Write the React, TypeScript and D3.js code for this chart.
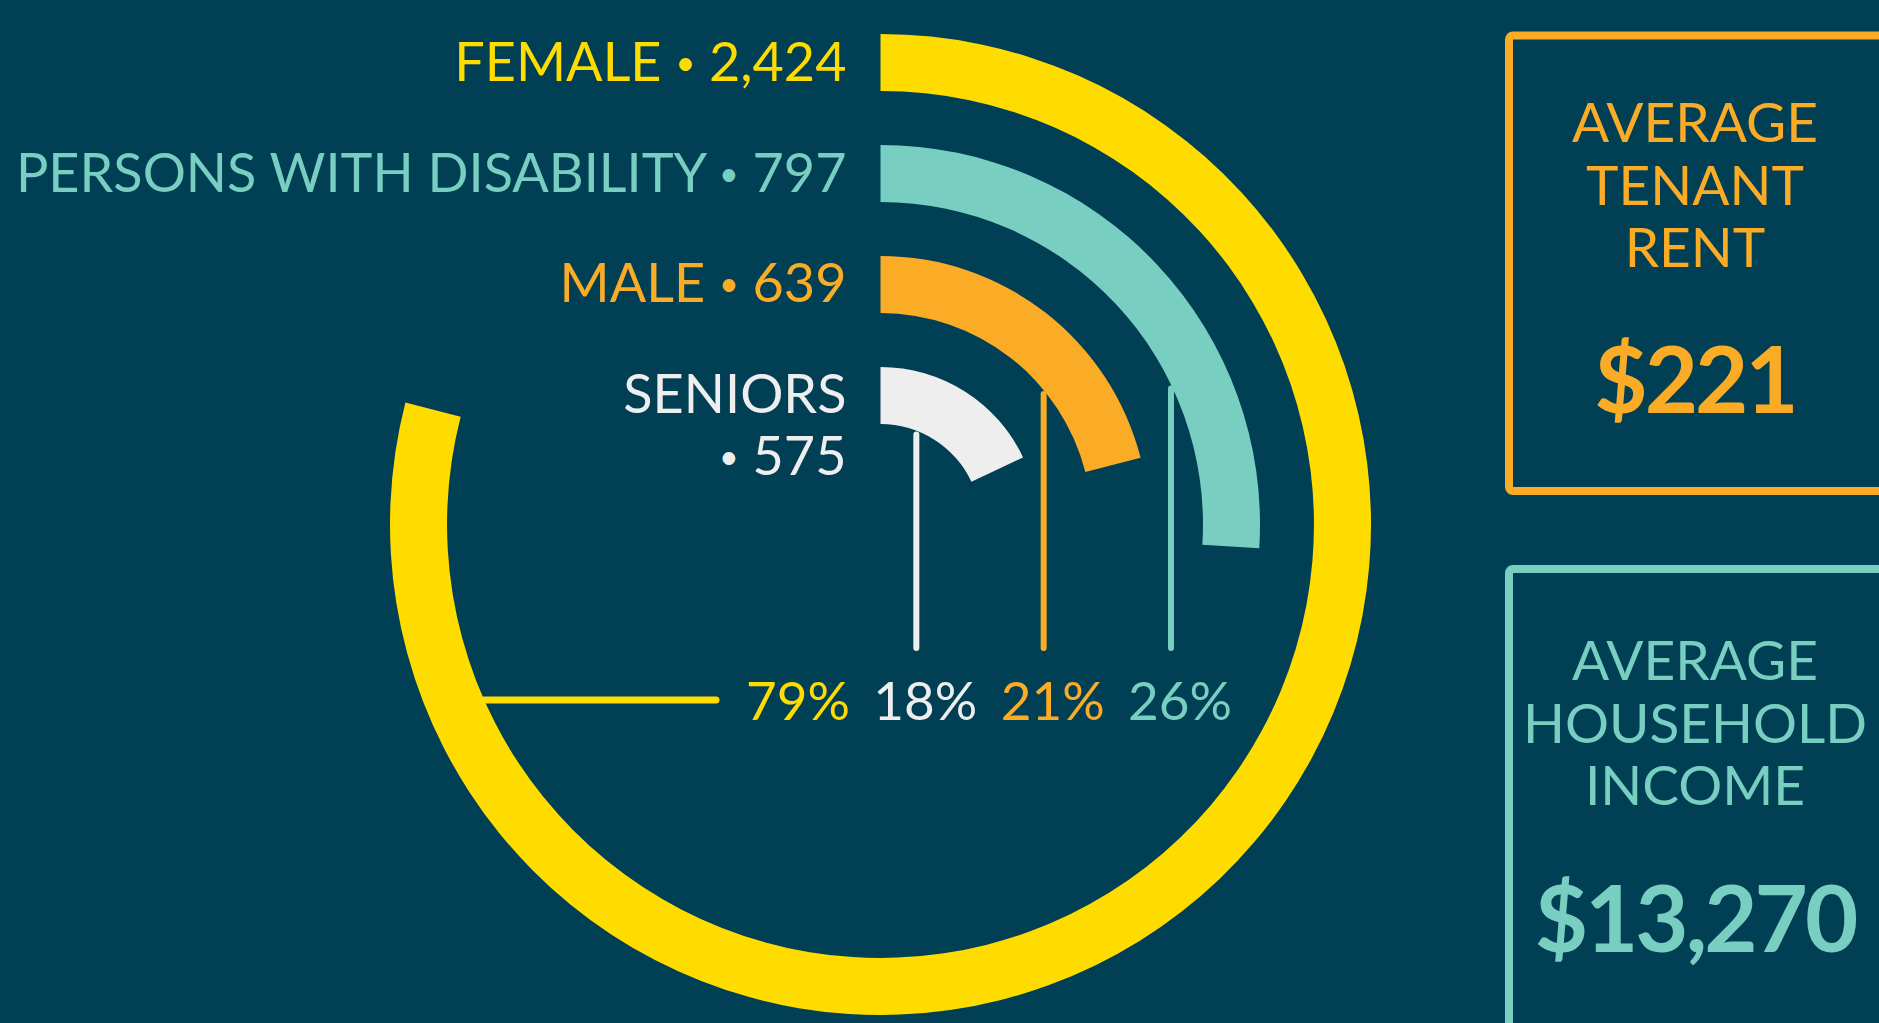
import React from "react";
import * as d3 from "d3";

const categories = ["FEMALE", "PERSONS WITH DISABILITY", "MALE", "SENIORS"];
const counts = [2424, 797, 639, 575];
const shares = [0.79, 0.26, 0.21, 0.18];
const colors = ["#FEDC00", "#78CEC1", "#FBAC26", "#EEEEEE"];
const percentOrder = ["FEMALE", "SENIORS", "MALE", "PERSONS WITH DISABILITY"];

const statTitles = [
  ["AVERAGE", "TENANT", "RENT"],
  ["AVERAGE", "HOUSEHOLD", "INCOME"],
];
const statValues = [221, 13270];
const statColors = ["#FBAC26", "#78CEC1"];

const W = 1879;
const H = 1023;
const BG = "#013F54";
const FONT = "Lato, 'Open Sans', sans-serif";

function Bullet() {
  return (
    <>
      {" "}
      <tspan fontSize={34} dy={-6}>
        •
      </tspan>
      <tspan dy={6}> </tspan>
    </>
  );
}

export default function App() {
  const cx = 880.5;
  const cy = 524.5;

  const ringScale = d3
    .scaleBand<string>()
    .domain([...categories].reverse())
    .range([100.5, 490.5])
    .paddingInner(0.486)
    .paddingOuter(0);
  const bw = ringScale.bandwidth();

  const angle = d3.scaleLinear().domain([0, 1]).range([0, 2 * Math.PI]);

  const arcGen = d3.arc<any>();
  const fmtCount = d3.format(",");
  const fmtPct = d3.format(".0%");
  const fmtMoney = d3.format("$,");

  const pctX = d3.scalePoint<string>().domain(percentOrder).range([798, 1180]);
  const pctBaseline = 720;
  const lineY = 700;
  const stemBottom = 648;

  const colorOf = (c: string) => colors[categories.indexOf(c)];
  const labelX = cx - 34;

  return (
    <svg
      width={W}
      height={H}
      style={{ position: "absolute", left: 0, top: 0, display: "block" }}
      fontFamily={FONT}
    >
      <rect x={0} y={0} width={W} height={H} fill={BG} />

      {/* rings */}
      <g transform={`translate(${cx},${cy})`}>
        {categories.map((c, i) => {
          const inner = ringScale(c)!;
          const d = arcGen({
            innerRadius: inner,
            outerRadius: inner + bw,
            startAngle: 0,
            endAngle: angle(shares[i]),
          });
          return <path key={c} d={d || ""} fill={colors[i]} />;
        })}
      </g>

      {/* ring labels */}
      {categories.map((c, i) => {
        const inner = ringScale(c)!;
        const mid = cy - (inner + bw / 2);
        const innermost = i === categories.length - 1;
        const n = fmtCount(counts[i]);
        if (innermost) {
          return (
            <g key={c} fill={colors[i]} fontSize={54} textAnchor="end">
              <text x={labelX} y={mid + 18}>
                {c}
              </text>
              <text x={labelX} y={mid + 80}>
                <tspan fontSize={34} dy={-6}>
                  •
                </tspan>
                <tspan dy={6}> {n}</tspan>
              </text>
            </g>
          );
        }
        return (
          <text
            key={c}
            x={labelX}
            y={mid + 18}
            textAnchor="end"
            fill={colors[i]}
            fontSize={54}
          >
            {c}
            <Bullet />
            {n}
          </text>
        );
      })}

      {/* leaders */}
      {percentOrder.map((c, k) => {
        const i = categories.indexOf(c);
        const inner = ringScale(c)!;
        const px = pctX(c)!;
        if (k === 0) {
          const dy = lineY - cy;
          const xs = cx - Math.sqrt(inner * inner - dy * dy) - 4;
          return (
            <line
              key={c}
              x1={xs}
              x2={px - 82}
              y1={lineY}
              y2={lineY}
              stroke={colors[i]}
              strokeWidth={7}
              strokeLinecap="round"
            />
          );
        }
        const lx = px - 9;
        const dx = lx - cx;
        const ys = cy - Math.sqrt(inner * inner - dx * dx) + 4;
        return (
          <line
            key={c}
            x1={lx}
            x2={lx}
            y1={ys}
            y2={stemBottom}
            stroke={colors[i]}
            strokeWidth={6}
            strokeLinecap="round"
          />
        );
      })}

      {/* percent labels */}
      {percentOrder.map((c) => {
        const i = categories.indexOf(c);
        return (
          <text
            key={c}
            x={pctX(c)}
            y={pctBaseline}
            textAnchor="middle"
            fill={colorOf(c)}
            fontSize={53}
          >
            {fmtPct(shares[i])}
          </text>
        );
      })}

      {/* stat boxes */}
      {statValues.map((v, j) => {
        const top = j === 0 ? 35.5 : 569;
        const h = j === 0 ? 455.5 : 600;
        const tcx = 1695;
        const titleBase = top + (j === 0 ? 106.5 : 111);
        const valueBase = top + (j === 0 ? 377.5 : 383);
        return (
          <g key={j}>
            <rect
              x={1509}
              y={top}
              width={500}
              height={h}
              rx={4}
              fill="none"
              stroke={statColors[j]}
              strokeWidth={8}
            />
            {statTitles[j].map((t, k) => (
              <text
                key={k}
                x={tcx}
                y={titleBase + k * 62.5}
                textAnchor="middle"
                fill={statColors[j]}
                fontSize={55}
              >
                {t}
              </text>
            ))}
            <text
              x={tcx}
              y={valueBase}
              textAnchor="middle"
              fill={statColors[j]}
              fontSize={92}
              fontWeight={700}
              letterSpacing={-3}
            >
              {fmtMoney(v)}
            </text>
          </g>
        );
      })}
    </svg>
  );
}
